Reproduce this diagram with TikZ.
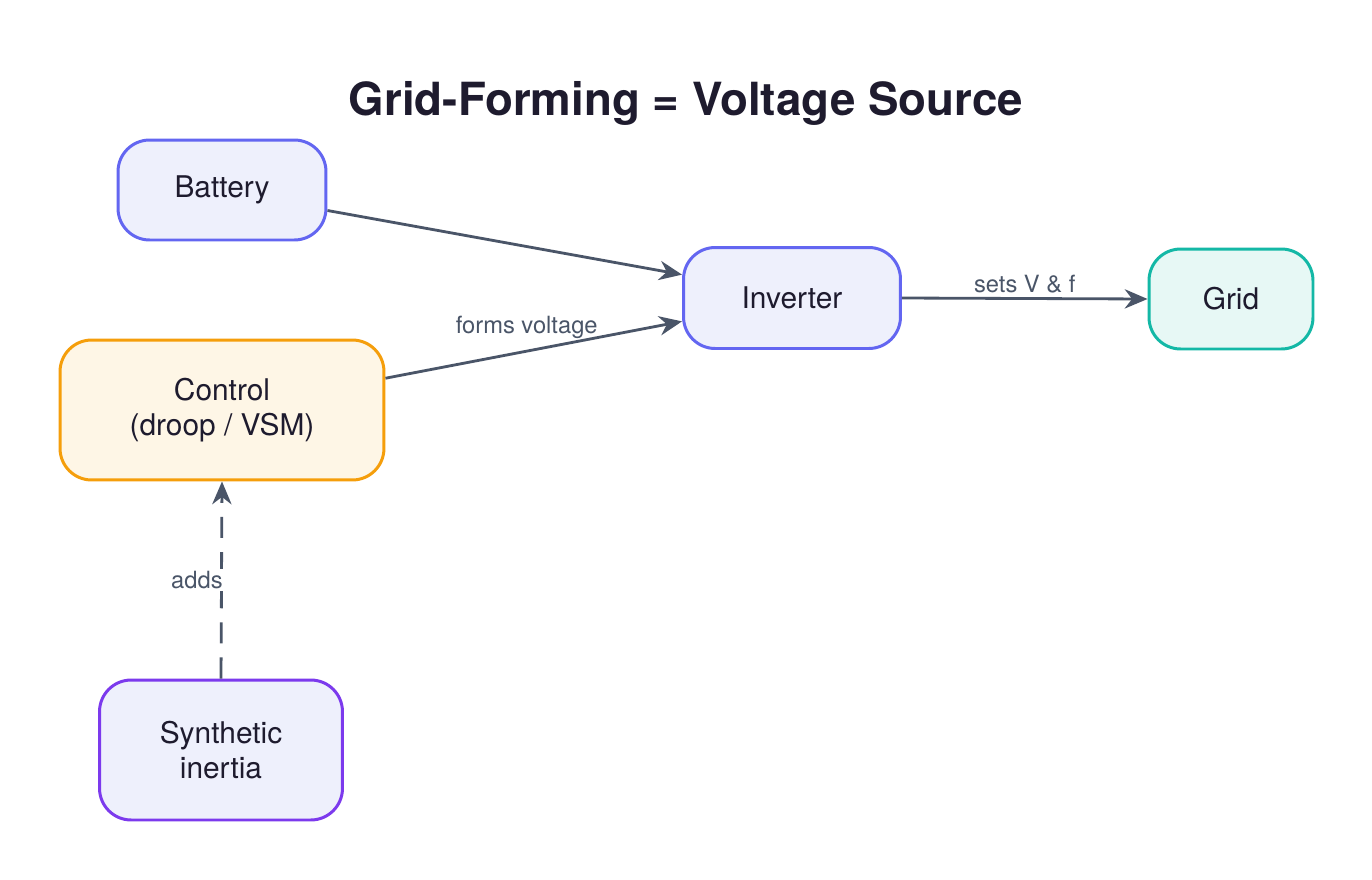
\documentclass[tikz,border=0pt]{standalone}
\usepackage{fontspec}
\setmainfont{TeX Gyre Heros}
\usetikzlibrary{arrows.meta,positioning}
\definecolor{boxblue}{HTML}{6366F1}
\definecolor{fillblue}{HTML}{EEF0FC}
\definecolor{boxorange}{HTML}{F59E0B}
\definecolor{fillorange}{HTML}{FEF6E6}
\definecolor{boxteal}{HTML}{14B8A6}
\definecolor{fillteal}{HTML}{E7F8F5}
\definecolor{boxpurple}{HTML}{7C3AED}
\definecolor{linkgray}{HTML}{4A5568}
\definecolor{titleink}{HTML}{1E1B2E}
\tikzset{
 box/.style={draw=boxblue, fill=fillblue, line width=1.7pt, rounded corners=18pt,
  align=center, font=\fontsize{17}{20}\selectfont, text=titleink, inner sep=0pt},
 link/.style={draw=linkgray, line width=1.6pt, -{Stealth[length=13pt,width=11pt]}},
 linklabel/.style={font=\fontsize{13.5}{16}\selectfont, text=linkgray}
}
\begin{document}
\begin{tikzpicture}[x=0.02cm, y=-0.02cm]
\useasboundingbox[fill=white] (0,0) rectangle (1372,879);
\node[font=\bfseries\fontsize{26}{30}\selectfont, text=titleink] (title) at (686,103) {Grid-Forming = Voltage Source};

\node[box, minimum width=4.16cm, minimum height=2cm] (battery) at (222,190) {Battery};
\node[box, minimum width=4.34cm, minimum height=2.02cm] (inverter) at (792,298) {Inverter};
\node[box, draw=boxteal, fill=fillteal, minimum width=3.28cm, minimum height=2cm] (grid) at (1231,299) {Grid};
\node[box, draw=boxorange, fill=fillorange, minimum width=6.48cm, minimum height=2.8cm] (control) at (222,410) {Control\\(droop / VSM)};
\node[box, draw=boxpurple, minimum width=4.86cm, minimum height=2.8cm] (inertia) at (221,750) {Synthetic\\inertia};

\draw[link] (battery.-11) -- (inverter.168);
\draw[link] (control.11) -- (inverter.192) node[linklabel, pos=0.5, above=2pt, xshift=-4pt] {forms voltage};
\draw[link] (inverter.east) -- (grid.west) node[linklabel, midway, above=-1pt] {sets V \& f};
\draw[link, dashed, dash pattern=on 12pt off 8pt] (inertia.north) -- (control.south) node[linklabel, pos=0.5, fill=white, inner sep=1pt, xshift=-14pt] {adds};
\end{tikzpicture}
\end{document}
